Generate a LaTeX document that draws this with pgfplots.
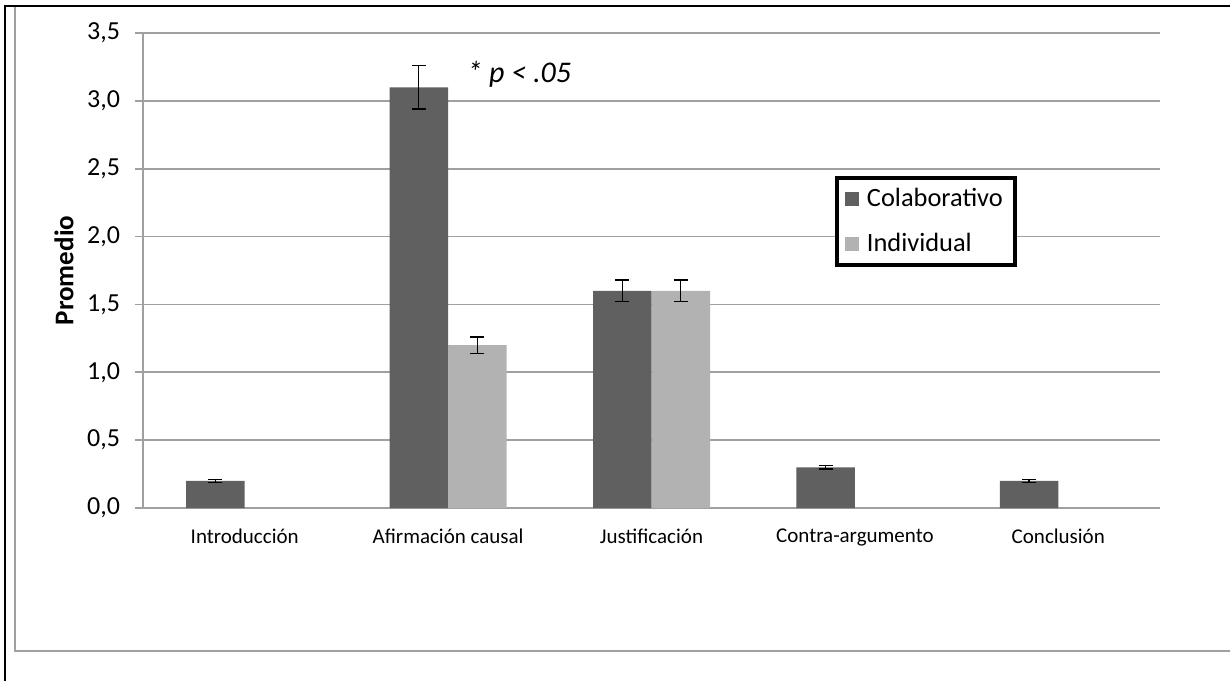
\documentclass[border=0pt]{standalone}
\usepackage{fontspec}
\setmainfont{Carlito}
\usepackage{pgfplots}
\usepackage{pgfplotstable}
\pgfplotsset{compat=1.18}

\definecolor{oscuro}{RGB}{96,96,96}
\definecolor{claro}{RGB}{178,178,178}
\definecolor{rejilla}{RGB}{160,160,160}

% x = posicion de la barra (categoria -/+ media barra), y = promedio, e = error
\pgfplotstableread{
x y e
-0.1438 0.2 0.01
0.8562 3.1 0.16
1.8562 1.6 0.08
2.8562 0.3 0.012
3.8562 0.2 0.01
}\colaborativo
\pgfplotstableread{
x y e
1.1438 1.2 0.06
2.1438 1.6 0.08
}\individual

\begin{document}
\begin{tikzpicture}
\useasboundingbox (0,0) rectangle (615pt,340.5pt);
% marcos del recorte
\draw[line width=1.4pt] (2.5pt,0) -- (2.5pt,337.5pt) -- (615pt,337.5pt);
\draw[rejilla, line width=0.8pt] (7.5pt,337pt) -- (7.5pt,15pt) -- (615pt,15pt);

\begin{axis}[
    at={(71.5pt,86.5pt)}, anchor=south west,
    scale only axis,
    width=508.5pt, height=237.5pt,
    xmin=-0.5, xmax=4.5,
    ymin=0, ymax=3.5,
    ytick={0,0.5,...,3.5},
    xtick={0,1,2,3,4},
    xticklabels={Introducción, Afirmación causal, Justificación, Contra-argumento, Conclusión},
    axis lines*=left,
    axis line style={rejilla, line width=0.8pt},
    ymajorgrids,
    grid style={rejilla, line width=0.8pt},
    tick align=outside,
    major tick length=4pt,
    ytick style={rejilla, line width=0.8pt},
    xtick style={draw=none},
    /pgf/number format/.cd, fixed, fixed zerofill, precision=1, use comma, assume math mode=true,
    /pgfplots/.cd,
    yticklabel style={font=\fontsize{13}{15}\selectfont, xshift=-4pt},
    xticklabel style={font=\fontsize{10.5}{12}\selectfont, yshift=-3pt},
    ylabel={Promedio},
    ylabel style={at={(axis description cs:-0.0777,0.5)}, anchor=center, font=\fontsize{13.5}{15}\selectfont\bfseries},
    legend style={
        at={(axis description cs:0.6804,0.699)}, anchor=north west,
        draw=black, line width=2pt,
        font=\fontsize{13.2}{15}\selectfont,
        inner xsep=4pt, inner ysep=3pt, row sep=8pt,
        legend cell align=left,
        /tikz/every odd column/.append style={column sep=2pt},
    },
    legend image code/.code={\fill[#1, draw=none] (0pt,-3.5pt) rectangle (7pt,3.5pt);},
]
\addplot[ybar, bar width=0.2876, bar shift=0pt, fill=oscuro, draw=none,
    error bars/.cd, y dir=both, y explicit,
    error bar style={black, line width=0.6pt},
    error mark options={black, line width=0.6pt, mark size=3.5pt, rotate=90}]
    table[x=x, y=y, y error=e] {\colaborativo};
\addlegendentry{Colaborativo}
\addplot[ybar, bar width=0.2876, bar shift=0pt, fill=claro, draw=none,
    error bars/.cd, y dir=both, y explicit,
    error bar style={black, line width=0.6pt},
    error mark options={black, line width=0.6pt, mark size=3.5pt, rotate=90}]
    table[x=x, y=y, y error=e] {\individual};
\addlegendentry{Individual}
\node[anchor=base west, font=\fontsize{15}{17}\selectfont\itshape] at (axis cs:1.06,3.132) {* p < .05};
\end{axis}
\end{tikzpicture}
\end{document}
